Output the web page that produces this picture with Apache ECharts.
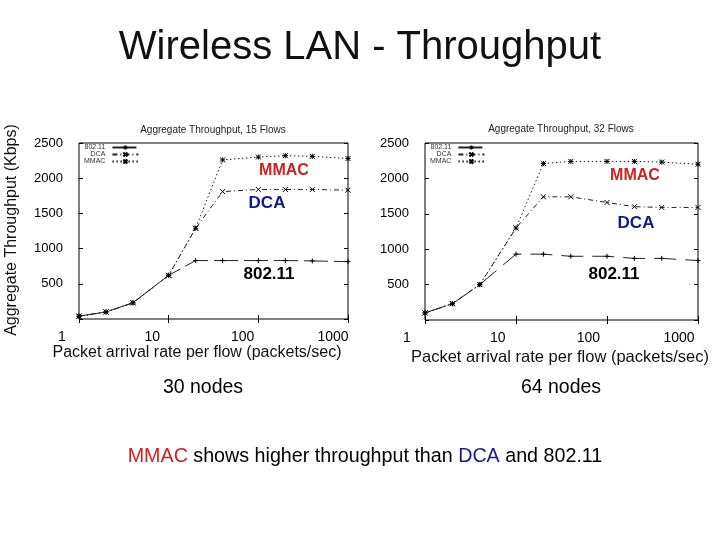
<!DOCTYPE html>
<html>
<head>
<meta charset="utf-8">
<script src="https://cdn.jsdelivr.net/npm/echarts@6/dist/echarts.min.js"></script>
<style>
  html, body { margin: 0; padding: 0; background: #fff; }
  #main { width: 720px; height: 540px; }
</style>
</head>
<body>
<div id="main"></div>
<script>
// packet arrival rate per flow (packets/sec)
var rates = [1, 2, 4, 10, 20, 40, 100, 200, 400, 1000];

// 15 flows / 30 nodes
var mmac15 = [40, 100, 230, 620, 1290, 2260, 2300, 2320, 2310, 2280];
var dca15 = [40, 100, 230, 620, 1290, 1810, 1840, 1840, 1840, 1830];
var ieee15 = [40, 100, 230, 620, 830, 830, 830, 830, 825, 815];

// 32 flows / 64 nodes
var mmac32 = [100, 230, 500, 1300, 2210, 2240, 2240, 2240, 2230, 2200];
var dca32 = [100, 230, 500, 1300, 1740, 1740, 1660, 1600, 1590, 1590];
var ieee32 = [100, 230, 500, 930, 930, 900, 900, 870, 870, 840];

var FONT = '"Liberation Sans", Arial, sans-serif';
var plusSym = 'path://M5,0L5,10M0,5L10,5';
var crossSym = 'path://M0,0L10,10M10,0L0,10';
var starSym = 'path://M0,0L10,10M10,0L0,10M5,0L5,10M0,5L10,5';

function pairs(vals) {
  return rates.map(function (r, i) { return [r, vals[i]]; });
}

function mkSeries(name, vals, axis, dash, sym) {
  return {
    name: name,
    type: 'line',
    xAxisIndex: axis,
    yAxisIndex: axis,
    data: pairs(vals),
    symbol: sym,
    symbolSize: 5,
    itemStyle: { color: '#000', borderColor: '#000', borderWidth: 1 },
    lineStyle: { color: '#222', width: 1, type: dash },
    emphasis: { disabled: true },
    animation: false
  };
}

function dataX(grid, pos) {
  return {
    type: 'log', logBase: 10, min: 1, max: 1000, gridIndex: grid, position: pos,
    axisLine: { show: false },
    axisTick: { show: true, inside: true, length: 4, lineStyle: { color: '#000' } },
    axisLabel: { show: false },
    splitLine: { show: false }
  };
}

function dataY(grid, pos, labels) {
  return {
    type: 'value', min: 0, max: 2500, interval: 500, gridIndex: grid, position: pos,
    axisLine: { show: false },
    axisTick: { show: true, inside: true, length: 4, lineStyle: { color: '#000' } },
    axisLabel: {
      show: labels, margin: 16, fontSize: 13, color: '#000', fontFamily: FONT,
      formatter: function (v) { return v === 0 ? '' : String(v); }
    },
    splitLine: { show: false }
  };
}

// axis that only carries the slide's x tick labels
function labelX(grid) {
  return {
    type: 'log', logBase: 10, min: 1, max: 1000, gridIndex: grid,
    axisLine: { show: false }, axisTick: { show: false }, splitLine: { show: false },
    axisLabel: {
      margin: 10, fontSize: 14, color: '#000', fontFamily: FONT,
      formatter: function (v) { return String(Math.round(v)); }
    }
  };
}

function legendAt(left) {
  return {
    left: left, top: 144, orient: 'vertical', align: 'right',
    itemWidth: 26, itemHeight: 5, itemGap: 0, padding: 0,
    selectedMode: false,
    textStyle: { fontSize: 7, color: '#333', fontFamily: FONT, padding: [0, 2, 0, 0] },
    data: ['802.11', 'DCA', 'MMAC']
  };
}

function txt(x, y, text, size, color, weight, extra) {
  var t = {
    type: 'text', x: x, y: y, silent: true,
    style: {
      text: text, fontSize: size, fontFamily: FONT, fill: color || '#000',
      fontWeight: weight || 'normal', align: 'center', verticalAlign: 'middle'
    }
  };
  if (extra) { for (var k in extra) t[k] = extra[k]; }
  return t;
}

var chart = echarts.init(document.getElementById('main'), null, { renderer: 'canvas' });
chart.setOption({
  backgroundColor: '#fff',
  animation: false,
  title: {
    text: 'Wireless LAN - Throughput', left: 'center', top: 23,
    textStyle: { fontSize: 40, fontWeight: 'normal', color: '#111', fontFamily: FONT }
  },
  legend: [legendAt(84), legendAt(430)],
  grid: [
    { left: 79, top: 143, width: 269, height: 176, show: true, borderColor: '#000', borderWidth: 1, backgroundColor: 'transparent' },
    { left: 425, top: 143, width: 273, height: 177, show: true, borderColor: '#000', borderWidth: 1, backgroundColor: 'transparent' },
    { left: 62, top: 319, width: 271, height: 1 },
    { left: 407, top: 320, width: 272, height: 1 }
  ],
  xAxis: [
    dataX(0, 'bottom'), dataX(1, 'bottom'), labelX(2), labelX(3),
    dataX(0, 'top'), dataX(1, 'top')
  ],
  yAxis: [
    dataY(0, 'left', true), dataY(1, 'left', true),
    { type: 'value', gridIndex: 2, show: false },
    { type: 'value', gridIndex: 3, show: false },
    dataY(0, 'right', false), dataY(1, 'right', false)
  ],
  series: [
    mkSeries('802.11', ieee15, 0, [24, 6], plusSym),
    mkSeries('DCA', dca15, 0, [5, 3, 1, 3], crossSym),
    mkSeries('MMAC', mmac15, 0, [1.5, 2.5], starSym),
    mkSeries('802.11', ieee32, 1, [22, 9], plusSym),
    mkSeries('DCA', dca32, 1, [5, 3, 1, 3], crossSym),
    mkSeries('MMAC', mmac32, 1, [1.5, 2.5], starSym)
  ],
  graphic: [
    txt(12, 230, 'Aggregate Throughput (Kbps)', 16, '#111', 'normal', { rotation: Math.PI / 2 }),
    txt(213, 130, 'Aggregate Throughput, 15 Flows', 10, '#222'),
    txt(561, 129, 'Aggregate Throughput, 32 Flows', 10, '#222'),
    txt(197, 353, 'Packet arrival rate per flow (packets/sec)', 16, '#111'),
    txt(560, 357, 'Packet arrival rate per flow (packets/sec)', 16.5, '#111'),
    txt(284, 171, 'MMAC', 16, '#cc2222', 'bold'),
    txt(267, 203, 'DCA', 17, '#101a8c', 'bold'),
    txt(269, 274, '802.11', 17, '#000', 'bold'),
    txt(635, 176, 'MMAC', 16, '#cc2222', 'bold'),
    txt(636, 223, 'DCA', 17, '#101a8c', 'bold'),
    txt(614, 274, '802.11', 17, '#000', 'bold'),
    txt(203, 388, '30 nodes', 19.5, '#000'),
    txt(561, 388, '64 nodes', 19.5, '#000'),
    {
      type: 'text', x: 365, y: 457, silent: true,
      style: {
        text: '{r|MMAC} shows higher throughput than {b|DCA} and 802.11',
        fontSize: 19.7, fontFamily: FONT, fill: '#000', align: 'center', verticalAlign: 'middle',
        rich: {
          r: { fontSize: 19.7, fontFamily: FONT, fill: '#cc2222', color: '#cc2222' },
          b: { fontSize: 19.7, fontFamily: FONT, fill: '#1a1a8c', color: '#1a1a8c' }
        }
      }
    }
  ]
});
</script>
</body>
</html>
